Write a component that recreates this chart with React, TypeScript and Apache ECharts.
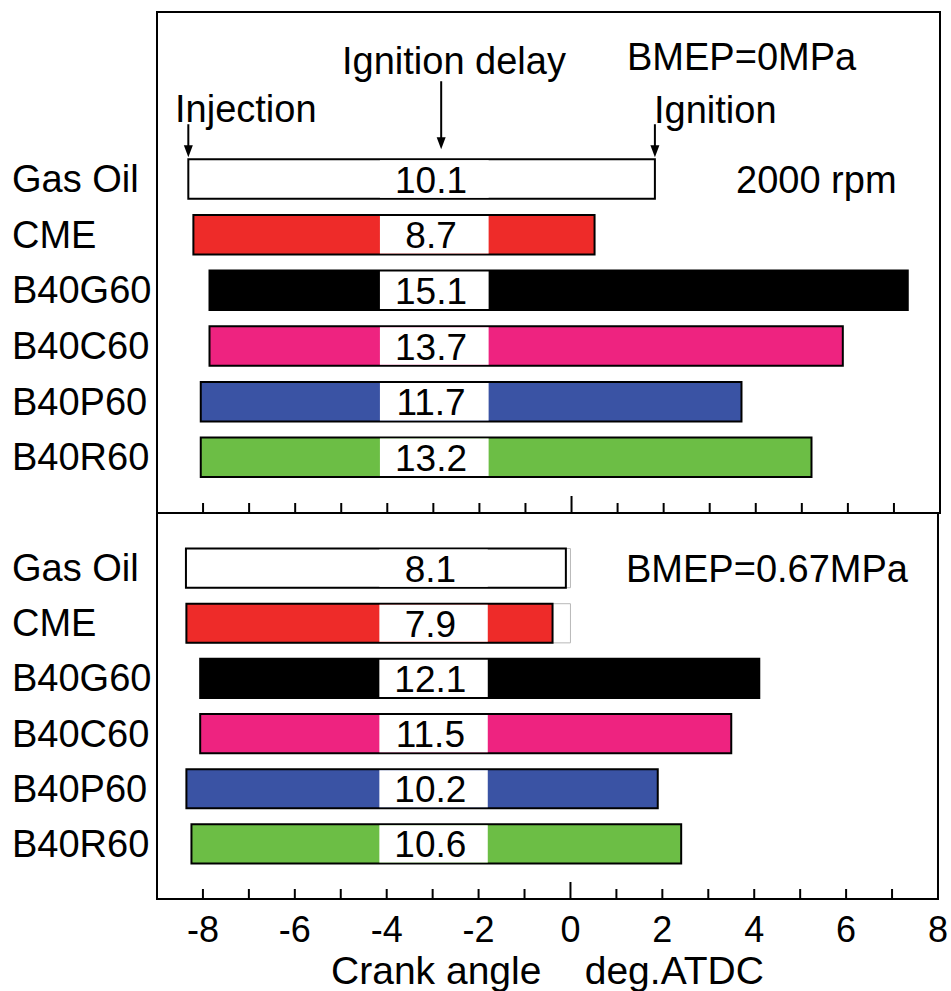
import React, { useEffect, useRef } from "react";
import * as echarts from "echarts";

// ---------- data ----------
const categories = ["Gas Oil", "CME", "B40G60", "B40C60", "B40P60", "B40R60"];
const barColors = ["#FFFFFF", "#EE2B29", "#000000", "#EE2380", "#3A53A4", "#6CBE45"];

// BMEP = 0 MPa (crank angle, deg ATDC)
const injection0 = [-8.32, -8.21, -7.86, -7.86, -8.05, -8.05];
const ignition0 = [1.81, 0.5, 7.3, 5.89, 3.69, 5.21];
const delay0 = ["10.1", "8.7", "15.1", "13.7", "11.7", "13.2"];

// BMEP = 0.67 MPa
const injection1 = [-8.37, -8.36, -8.06, -8.06, -8.36, -8.25];
const ignition1 = [-0.1, -0.39, 4.11, 3.5, 1.9, 2.41];
const delay1 = ["8.1", "7.9", "12.1", "11.5", "10.2", "10.6"];

const xMin = -9;
const xMax = 8;
const xTickLabels = [-8, -6, -4, -2, 0, 2, 4, 6, 8];

// ---------- layout / style constants ----------
const FONT = '"Liberation Sans", Arial, Helvetica, sans-serif';
const TOP_OFFSET = 3; // first row position on the top panel y scale (0..9)
const BOTTOM_OFFSET = 1; // first row position on the bottom panel y scale (0..7)
const BOX_FROM = -4.16;
const BOX_TO = -1.8;
const LABEL_X = -3.05;
const BAR_RATIO = 0.71;
const DELAY_ARROW_X = -2.83;

function makeBarRenderer(delays: string[]) {
  return (params: any, api: any) => {
    const i = params.dataIndex;
    const s = api.value(0);
    const e = api.value(1);
    const y = api.value(2);
    const p0 = api.coord([s, y]);
    const p1 = api.coord([e, y]);
    const h = api.size([0, 1])[1] * BAR_RATIO;
    const top = p0[1] - h / 2;
    const children: any[] = [];
    if (e < 0) {
      const z = api.coord([0, y]);
      children.push({
        type: "rect",
        shape: { x: p0[0], y: top, width: z[0] - p0[0], height: h },
        style: { fill: "#fff", stroke: "#b8b8b8", lineWidth: 1 },
      });
    }
    children.push({
      type: "rect",
      shape: { x: p0[0], y: top, width: p1[0] - p0[0], height: h },
      style: { fill: barColors[i], stroke: "#000", lineWidth: 2 },
    });
    const b0 = api.coord([Math.max(BOX_FROM, s), y]);
    const b1 = api.coord([Math.min(BOX_TO, e), y]);
    children.push({
      type: "rect",
      shape: { x: b0[0], y: top + 1, width: b1[0] - b0[0], height: h - 2 },
      style: { fill: "#fff", lineWidth: 0 },
    });
    const lp = api.coord([LABEL_X, y]);
    children.push({
      type: "text",
      style: {
        text: delays[i],
        x: lp[0],
        y: lp[1] + 1,
        align: "center",
        verticalAlign: "middle",
        textAlign: "center",
        textVerticalAlign: "middle",
        fontSize: 37,
        fontFamily: FONT,
        fill: "#000",
      },
    });
    return { type: "group", children };
  };
}

// tick marks: every integer on the x scale, pointing up from the bottom edge of a panel
const tickValues = [-8, -7, -6, -5, -4, -3, -2, -1, 0, 1, 2, 3, 4, 5, 6, 7];
function tickRenderer(params: any, api: any) {
  const v = api.value(0);
  const p = api.coord([v, api.value(1)]);
  const len = v === 0 ? 17 : 10;
  return {
    type: "line",
    shape: { x1: p[0], y1: p[1], x2: p[0], y2: p[1] - len },
    style: { stroke: "#000", lineWidth: 2 },
  };
}

const arrowTipGap = [2, 2, 10];
const arrowLength = [33, 33, 68];
function arrowRenderer(params: any, api: any) {
  const i = params.dataIndex;
  const p = api.coord([api.value(0), api.value(1)]);
  const h = api.size([0, 1])[1] * BAR_RATIO;
  const tipY = p[1] - h / 2 - arrowTipGap[i];
  const x = p[0];
  return {
    type: "group",
    children: [
      {
        type: "line",
        shape: { x1: x, y1: tipY - arrowLength[i], x2: x, y2: tipY - 8 },
        style: { stroke: "#000", lineWidth: 2 },
      },
      {
        type: "polygon",
        shape: { points: [[x - 4.5, tipY - 12], [x + 4.5, tipY - 12], [x, tipY]] },
        style: { fill: "#000" },
      },
    ],
  };
}

const topLabels = (v: number) => {
  const idx = v - TOP_OFFSET;
  return idx >= 0 && idx < categories.length && Number.isInteger(v) ? categories[idx] : "";
};
const bottomLabels = (v: number) => {
  const idx = v - BOTTOM_OFFSET;
  return idx >= 0 && idx < categories.length && Number.isInteger(v) ? categories[idx] : "";
};

const textEl = (text: string, x: number, y: number) => ({
  type: "text",
  x,
  y,
  style: {
    text,
    fontSize: 38,
    fontFamily: FONT,
    fill: "#000",
    align: "left",
    verticalAlign: "middle",
    textAlign: "left",
    textVerticalAlign: "middle",
  },
});

function buildOption() {
  const xAxisCommon = {
    type: "value",
    position: "bottom",
    min: xMin,
    max: xMax,
    interval: 1,
    axisLine: { show: false, onZero: false },
    axisTick: { show: false },
    splitLine: { show: false },
  };
  const yAxisCommon = {
    type: "value",
    inverse: true,
    interval: 1,
    axisLine: { show: false, onZero: false },
    axisTick: { show: false },
    splitLine: { show: false },
  };
  return {
    animation: false,
    backgroundColor: "#fff",
    grid: [
      { left: 157, top: 12, width: 783, height: 501, show: true, borderColor: "#000", borderWidth: 2 },
      { left: 157, top: 513, width: 783, height: 390, show: true, borderColor: "#000", borderWidth: 2 },
    ],
    xAxis: [
      { ...xAxisCommon, gridIndex: 0, axisLabel: { show: false } },
      {
        ...xAxisCommon,
        gridIndex: 1,
        axisLabel: {
          show: true,
          margin: 12,
          fontSize: 36,
          fontFamily: FONT,
          color: "#000",
          formatter: (v: number) => (xTickLabels.indexOf(v) >= 0 ? String(v) : ""),
        },
        name: "Crank angle\u00A0\u00A0\u00A0\u00A0deg.ATDC",
        nameLocation: "middle",
        nameGap: 52,
        nameTextStyle: { fontSize: 39, fontFamily: FONT, color: "#000" },
      },
    ],
    yAxis: [
      {
        ...yAxisCommon,
        gridIndex: 0,
        min: 0,
        max: 9,
        axisLabel: { formatter: topLabels, align: "left", margin: 145, fontSize: 38, fontFamily: FONT, color: "#000" },
      },
      {
        ...yAxisCommon,
        gridIndex: 1,
        min: 0,
        max: 7,
        axisLabel: { formatter: bottomLabels, align: "left", margin: 145, fontSize: 38, fontFamily: FONT, color: "#000" },
      },
    ],
    series: [
      {
        type: "custom",
        xAxisIndex: 0,
        yAxisIndex: 0,
        renderItem: makeBarRenderer(delay0),
        data: categories.map((_, i) => [injection0[i], ignition0[i], i + TOP_OFFSET]),
      },
      {
        type: "custom",
        xAxisIndex: 1,
        yAxisIndex: 1,
        renderItem: makeBarRenderer(delay1),
        data: categories.map((_, i) => [injection1[i], ignition1[i], i + BOTTOM_OFFSET]),
      },
      {
        type: "custom",
        xAxisIndex: 0,
        yAxisIndex: 0,
        renderItem: tickRenderer,
        data: tickValues.map((v) => [v, 9]),
      },
      {
        type: "custom",
        xAxisIndex: 1,
        yAxisIndex: 1,
        renderItem: tickRenderer,
        data: tickValues.map((v) => [v, 7]),
      },
      {
        type: "custom",
        xAxisIndex: 0,
        yAxisIndex: 0,
        renderItem: arrowRenderer,
        data: [
          [injection0[0], TOP_OFFSET],
          [ignition0[0], TOP_OFFSET],
          [DELAY_ARROW_X, TOP_OFFSET],
        ],
      },
    ],
    graphic: [
      textEl("Injection", 175, 108.5),
      textEl("Ignition delay", 342, 60.5),
      textEl("BMEP=0MPa", 627, 56.5),
      textEl("Ignition", 654, 109.5),
      textEl("2000 rpm", 736, 179.5),
      textEl("BMEP=0.67MPa", 626, 568.5),
    ],
  };
}

export default function App() {
  const ref = useRef<HTMLDivElement>(null);
  useEffect(() => {
    if (!ref.current) return;
    const chart = echarts.init(ref.current, null, { renderer: "svg" });
    chart.setOption(buildOption() as any);
    return () => chart.dispose();
  }, []);
  return (
    <div
      ref={ref}
      style={{ position: "fixed", left: 0, top: 0, width: 951, height: 991, background: "#fff" }}
    />
  );
}
